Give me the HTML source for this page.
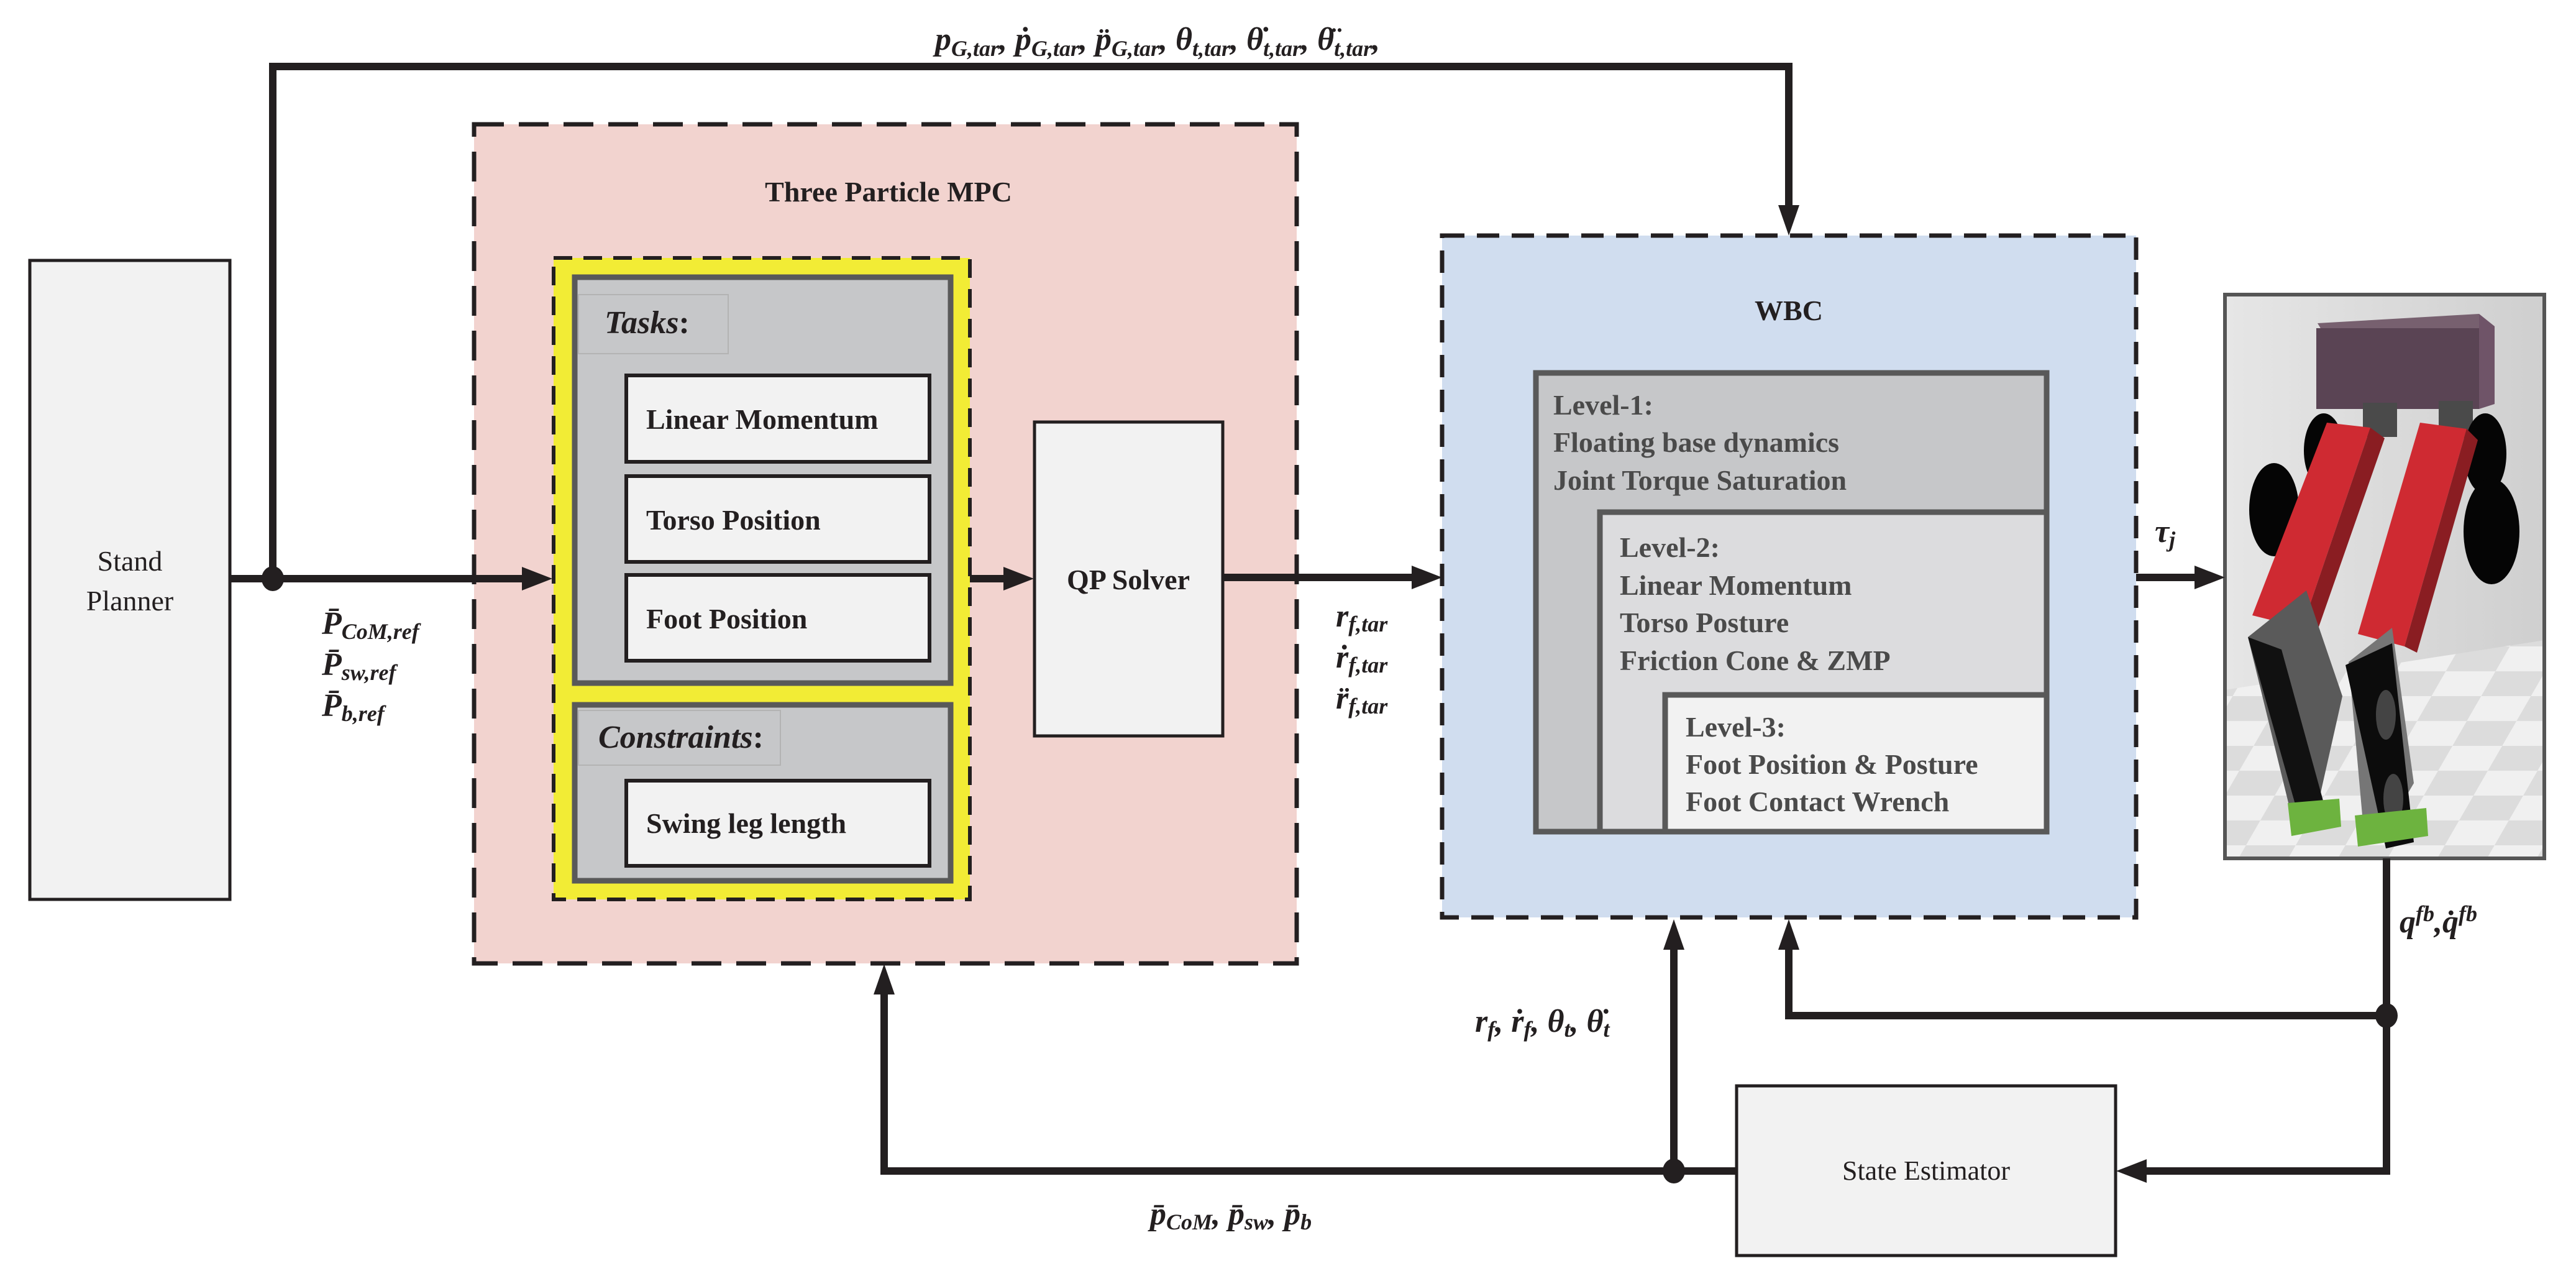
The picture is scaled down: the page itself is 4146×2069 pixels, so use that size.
<!DOCTYPE html>
<html><head><meta charset="utf-8"><style>
html,body{margin:0;padding:0;background:#fff}
svg{display:block}
text{font-family:"Liberation Serif",serif;fill:#231f20}
.b{font-weight:bold;font-size:46px}
.m{font-weight:bold;font-style:italic;font-size:52px}
.s{font-size:36px}
</style></head><body>
<svg width="4146" height="2069" viewBox="0 0 4146 2069" xmlns="http://www.w3.org/2000/svg">
<defs>
<pattern id="chk" width="160" height="160" patternUnits="userSpaceOnUse" patternTransform="skewX(-30) scale(1,0.5)">
<rect width="160" height="160" fill="#dcdcdc"/><rect width="80" height="80" fill="#f0f0f0"/><rect x="80" y="80" width="80" height="80" fill="#f0f0f0"/></pattern>
<linearGradient id="bg" x1="0" y1="0" x2="1" y2="0"><stop offset="0" stop-color="#e6e6e6"/><stop offset="1" stop-color="#cfcfcf"/></linearGradient>
</defs>

<rect x="48" y="419" width="322" height="1028" fill="#f2f2f2" stroke="#231f20" stroke-width="5"/>
<text x="209" y="918" text-anchor="middle" font-size="46">Stand</text>
<text x="209" y="982" text-anchor="middle" font-size="46">Planner</text>

<rect x="763" y="200" width="1324" height="1350" fill="#f2d3cf" stroke="#231f20" stroke-width="7" stroke-dasharray="48,24"/>
<text x="1430" y="324" text-anchor="middle" class="b">Three Particle MPC</text>

<rect x="891" y="415" width="670" height="1032" fill="#f2ec35" stroke="#231f20" stroke-width="6" stroke-dasharray="30,18"/>
<rect x="925" y="446" width="605" height="653" fill="#c6c7c9" stroke="#595959" stroke-width="9"/>
<rect x="931" y="474" width="241" height="95" fill="#c6c7c9" stroke="#b3b3b3" stroke-width="2"/>
<text x="973" y="536" class="m" font-size="48">Tasks<tspan font-style="normal">:</tspan></text>
<rect x="1008" y="604" width="488" height="139" fill="#f2f2f2" stroke="#231f20" stroke-width="6"/>
<text x="1040" y="690" class="b">Linear Momentum</text>
<rect x="1008" y="766" width="488" height="138" fill="#f2f2f2" stroke="#231f20" stroke-width="6"/>
<text x="1040" y="852" class="b">Torso Position</text>
<rect x="1008" y="925" width="488" height="138" fill="#f2f2f2" stroke="#231f20" stroke-width="6"/>
<text x="1040" y="1011" class="b">Foot Position</text>

<rect x="925" y="1134" width="605" height="283" fill="#c6c7c9" stroke="#595959" stroke-width="9"/>
<rect x="931" y="1143" width="325" height="88" fill="#c6c7c9" stroke="#b3b3b3" stroke-width="2"/>
<text x="963" y="1203" class="m" font-size="46">Constraints<tspan font-style="normal">:</tspan></text>
<rect x="1008" y="1256" width="488" height="137" fill="#f2f2f2" stroke="#231f20" stroke-width="6"/>
<text x="1040" y="1340" class="b">Swing leg length</text>

<rect x="1665" y="679" width="303" height="505" fill="#f2f2f2" stroke="#231f20" stroke-width="5"/>
<text x="1816" y="948" text-anchor="middle" class="b">QP Solver</text>

<rect x="2321" y="379" width="1117" height="1097" fill="#d0ddef" stroke="#231f20" stroke-width="7" stroke-dasharray="36,20"/>
<text x="2879" y="515" text-anchor="middle" class="b">WBC</text>
<rect x="2472" y="600" width="822" height="738" fill="#c6c7c9" stroke="#595959" stroke-width="9"/>
<rect x="2575" y="824" width="719" height="514" fill="#dcdcde" stroke="#595959" stroke-width="9"/>
<rect x="2680" y="1118" width="614" height="220" fill="#f2f2f2" stroke="#595959" stroke-width="9"/>
<text x="2500" y="667" class="b" style="fill:#4a4a4a">Level-1:</text>
<text x="2500" y="727" class="b" style="fill:#4a4a4a">Floating base dynamics</text>
<text x="2500" y="788" class="b" style="fill:#4a4a4a">Joint Torque Saturation</text>
<text x="2607" y="896" class="b" style="fill:#4a4a4a">Level-2:</text>
<text x="2607" y="957" class="b" style="fill:#4a4a4a">Linear Momentum</text>
<text x="2607" y="1017" class="b" style="fill:#4a4a4a">Torso Posture</text>
<text x="2607" y="1078" class="b" style="fill:#4a4a4a">Friction Cone &amp; ZMP</text>
<text x="2713" y="1185" class="b" style="fill:#4a4a4a">Level-3:</text>
<text x="2713" y="1245" class="b" style="fill:#4a4a4a">Foot Position &amp; Posture</text>
<text x="2713" y="1305" class="b" style="fill:#4a4a4a">Foot Contact Wrench</text>

<!-- Robot picture -->
<rect x="3581" y="474" width="514" height="907" fill="url(#bg)"/>
<polygon points="3581,1110 4095,1030 4095,1381 3581,1381" fill="url(#chk)"/>
<polygon points="3730,520 3990,505 4005,530 3745,545" fill="#77606f"/>
<rect x="3728" y="528" width="262" height="130" fill="#5a4454"/>
<polygon points="3990,505 4015,525 4015,650 3990,658" fill="#6f5468"/>
<rect x="3803" y="648" width="55" height="55" fill="#4a4a4a"/>
<rect x="3925" y="645" width="55" height="60" fill="#4a4a4a"/>
<ellipse cx="3740" cy="725" rx="32" ry="60" fill="#050505"/>
<ellipse cx="4000" cy="730" rx="34" ry="65" fill="#050505"/>
<ellipse cx="3660" cy="820" rx="40" ry="75" fill="#050505"/>
<ellipse cx="4010" cy="855" rx="45" ry="85" fill="#050505"/>
<polygon points="3745,680 3815,688 3705,1010 3625,990" fill="#cf2a32"/>
<polygon points="3815,688 3838,705 3728,1020 3705,1010" fill="#8a1d22"/>
<polygon points="3895,680 3970,690 3870,1040 3795,1020" fill="#cf2a32"/>
<polygon points="3970,690 3988,708 3890,1050 3870,1040" fill="#8a1d22"/>
<polygon points="3618,1025 3712,950 3770,1120 3725,1320 3690,1320" fill="#5a5a5a"/>
<polygon points="3618,1025 3672,1045 3745,1310 3702,1322" fill="#111"/>
<polygon points="3780,1065 3850,1010 3885,1260 3835,1345 3805,1345" fill="#767676"/>
<polygon points="3775,1070 3850,1035 3885,1355 3840,1365" fill="#0c0c0c"/>
<ellipse cx="3840" cy="1150" rx="16" ry="40" fill="#444"/>
<ellipse cx="3852" cy="1285" rx="16" ry="40" fill="#444"/>
<polygon points="3682,1292 3765,1285 3768,1330 3688,1345" fill="#6db33f"/>
<polygon points="3790,1312 3905,1300 3908,1345 3795,1362" fill="#6db33f"/>
<rect x="3581" y="474" width="514" height="907" fill="none" stroke="#555" stroke-width="6"/>

<g stroke="#231f20" stroke-width="12" fill="none">
<polyline points="439,931 439,107 2879,107 2879,330"/>
<line x1="370" y1="931" x2="840" y2="931"/>
<line x1="1561" y1="931" x2="1615" y2="931"/>
<line x1="1968" y1="929" x2="2272" y2="929"/>
<line x1="3438" y1="929" x2="3532" y2="929"/>
<polyline points="3841,1381 3841,1884 3455,1884"/>
<polyline points="3841,1634 2879,1634 2879,1528"/>
<polyline points="2795,1884 1423,1884 1423,1600"/>
<line x1="2694" y1="1884" x2="2694" y2="1528"/>
</g>
<g fill="#231f20">
<polygon points="2862,330 2896,330 2879,379"/>
<polygon points="840,912 840,950 889,931"/>
<polygon points="1615,912 1615,950 1664,931"/>
<polygon points="2272,910 2272,948 2321,929"/>
<polygon points="3532,910 3532,948 3581,929"/>
<polygon points="3455,1865 3455,1903 3406,1884"/>
<polygon points="2862,1528 2896,1528 2879,1479"/>
<polygon points="2677,1528 2711,1528 2694,1479"/>
<polygon points="1406,1600 1440,1600 1423,1551"/>
<ellipse cx="439" cy="931" rx="18" ry="20"/>
<ellipse cx="3841" cy="1634" rx="18" ry="20"/>
<ellipse cx="2694" cy="1884" rx="18" ry="20"/>
</g>

<rect x="2795" y="1747" width="610" height="273" fill="#f2f2f2" stroke="#231f20" stroke-width="5"/>
<text x="3100" y="1898" text-anchor="middle" font-size="44">State Estimator</text>

<text x="1505" y="80" class="m">p<tspan class="s" dy="10">G,tar</tspan><tspan dy="-10">, ṗ</tspan><tspan class="s" dy="10">G,tar</tspan><tspan dy="-10">, p̈</tspan><tspan class="s" dy="10">G,tar</tspan><tspan dy="-10">, θ</tspan><tspan class="s" dy="10">t,tar</tspan><tspan dy="-10">, θ̇</tspan><tspan class="s" dy="10">t,tar</tspan><tspan dy="-10">, θ̈</tspan><tspan class="s" dy="10">t,tar</tspan><tspan dy="-10">,</tspan></text>
<text x="518" y="1020" class="m">P̄<tspan class="s" dy="8">CoM,ref</tspan></text>
<text x="518" y="1086" class="m">P̄<tspan class="s" dy="8">sw,ref</tspan></text>
<text x="518" y="1152" class="m">P̄<tspan class="s" dy="8">b,ref</tspan></text>
<text x="2150" y="1008" class="m">r<tspan class="s" dy="8">f,tar</tspan></text>
<text x="2150" y="1074" class="m">ṙ<tspan class="s" dy="8">f,tar</tspan></text>
<text x="2150" y="1140" class="m">r̈<tspan class="s" dy="8">f,tar</tspan></text>
<text x="3468" y="872" class="m">τ<tspan class="s" dy="8">j</tspan></text>
<text x="3862" y="1500" class="m">q<tspan class="s" dy="-18">fb</tspan><tspan dy="18">,q̇</tspan><tspan class="s" dy="-18">fb</tspan></text>
<text x="2374" y="1660" class="m">r<tspan class="s" dy="8">f</tspan><tspan dy="-8">, ṙ</tspan><tspan class="s" dy="8">f</tspan><tspan dy="-8">, θ</tspan><tspan class="s" dy="8">t</tspan><tspan dy="-8">, θ̇</tspan><tspan class="s" dy="8">t</tspan></text>
<text x="1851" y="1970" class="m">p̄<tspan class="s" dy="8">CoM</tspan><tspan dy="-8">, p̄</tspan><tspan class="s" dy="8">sw</tspan><tspan dy="-8">, p̄</tspan><tspan class="s" dy="8">b</tspan></text>
</svg>
</body></html>
